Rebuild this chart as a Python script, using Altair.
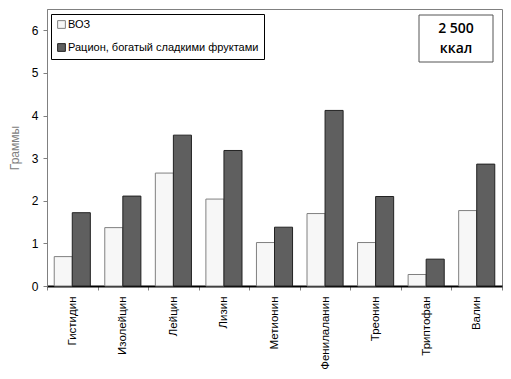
import altair as alt
import pandas as pd

acids = ["Гистидин", "Изолейцин", "Лейцин", "Лизин", "Метионин",
         "Фенилаланин", "Треонин", "Триптофан", "Валин"]
who = [0.69, 1.37, 2.65, 2.04, 1.02, 1.70, 1.02, 0.27, 1.77]
rich = [1.72, 2.11, 3.54, 3.18, 1.38, 4.12, 2.10, 0.63, 2.86]
series = ["ВОЗ", "Рацион, богатый сладкими фруктами"]
y_ticks = [0, 1, 2, 3, 4, 5, 6]
note = ["2 500", "ккал"]

rows = []
for a, w, r in zip(acids, who, rich):
    rows.append({"acid": a, "series": series[0], "value": w})
    rows.append({"acid": a, "series": series[1], "value": r})
df = pd.DataFrame(rows)

bars = alt.Chart(df).mark_bar(strokeWidth=1).encode(
    x=alt.X("acid:N", sort=acids,
            scale=alt.Scale(paddingInner=0, paddingOuter=0),
            axis=alt.Axis(title=None, labelAngle=-90, labelAlign="right",
                          labelBaseline="middle", labelFontSize=11.5, labelPadding=6,
                          tickBand="extent", tickColor="#808080", tickSize=4,
                          domainColor="black", domainWidth=2, labelColor="black",
                          labelLimit=200)),
    xOffset=alt.XOffset("series:N", sort=series,
                        scale=alt.Scale(paddingInner=0, paddingOuter=0.4)),
    y=alt.Y("value:Q", scale=alt.Scale(domain=[0, 6.5], nice=False),
            axis=alt.Axis(values=y_ticks, title="Граммы", grid=False,
                          domainColor="#808080", tickColor="#808080", tickSize=4,
                          labelFontSize=12, labelColor="black", labelPadding=5,
                          titleFontSize=12, titleFontWeight="normal",
                          titleColor="#808080", titleX=-26)),
    color=alt.Color("series:N", sort=series,
                    scale=alt.Scale(domain=series, range=["#f7f7f7", "#5f5f5f"]),
                    legend=alt.Legend(title=None, orient="none", legendX=4, legendY=5,
                                      strokeColor="black", fillColor="white",
                                      padding=5, rowPadding=10, labelFontSize=11,
                                      labelColor="black", symbolType="square",
                                      symbolSize=60, symbolStrokeColor="#333333",
                                      symbolStrokeWidth=1, labelOffset=1,
                                      labelLimit=300)),
    stroke=alt.Stroke("series:N", scale=alt.Scale(domain=series, range=["#808080", "#222222"]),
                      legend=None),
)

note_df = pd.DataFrame({"t": ["\n".join(note)]})
box = alt.Chart(note_df).mark_rect(fill="white", stroke="#555555", strokeWidth=1).encode(
    x=alt.value(372), x2=alt.value(446), y=alt.value(6), y2=alt.value(53)
)
txt = alt.Chart(note_df).mark_text(font="Open Sans", fontSize=14, fontWeight=600,
                                   lineBreak="\n", lineHeight=20, baseline="middle",
                                   align="center", color="black").encode(
    x=alt.value(409), y=alt.value(20), text="t:N"
)

chart = alt.layer(bars, box, txt).properties(
    width=455, height=277,
    autosize=alt.AutoSizeParams(type="none"),
    padding={"left": 39, "top": 1, "right": 1, "bottom": 85},
).configure(font="Liberation Sans").configure_view(stroke="#808080", strokeWidth=1)

chart.save("out.html", embed_options={"renderer": "svg", "actions": False})
